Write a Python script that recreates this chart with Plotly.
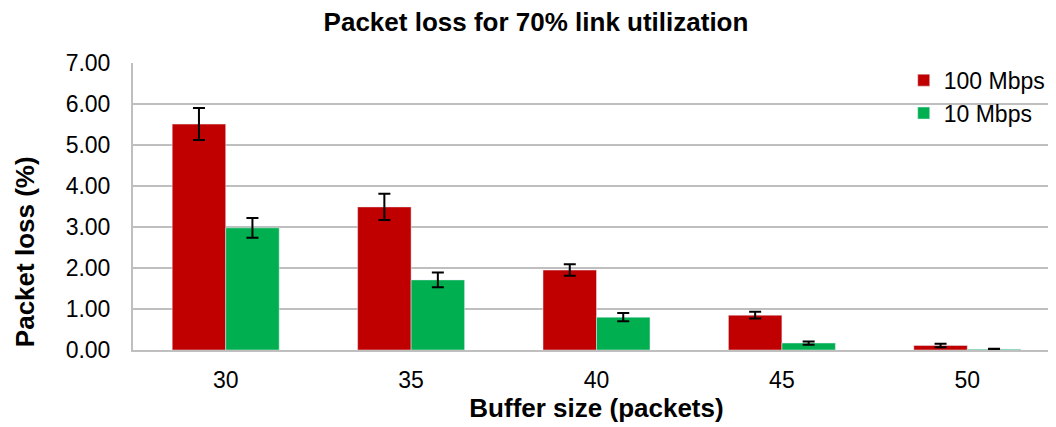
import plotly.graph_objects as go

buffer_sizes = ["30", "35", "40", "45", "50"]
loss_100 = [5.51, 3.49, 1.95, 0.85, 0.11]
err_100 = [0.39, 0.32, 0.14, 0.08, 0.04]
loss_10 = [2.98, 1.71, 0.80, 0.17, 0.02]
err_10 = [0.24, 0.18, 0.10, 0.04, 0.01]

fig = go.Figure()
fig.add_trace(go.Bar(
    x=buffer_sizes, y=loss_100, name="100 Mbps", marker_color="#c00000",
    error_y=dict(type="data", array=err_100, color="black", thickness=2, width=6),
))
fig.add_trace(go.Bar(
    x=buffer_sizes, y=loss_10, name="10 Mbps", marker_color="#00b050",
    error_y=dict(type="data", array=err_10, color="black", thickness=2, width=6),
))

# page body has an 8px margin, so offsets below are shifted by 8
fig.update_layout(
    width=1056, height=427,
    paper_bgcolor="white", plot_bgcolor="white",
    font=dict(family="Liberation Sans, Arial", size=23, color="black"),
    title=dict(text="<b>Packet loss for 70% link utilization</b>", x=0.5, xanchor="center",
               y=1 - 14 / 427, yanchor="middle", font=dict(size=26)),
    margin=dict(l=125, r=4, t=55, b=85),
    barmode="group", bargap=0.423, bargroupgap=0,
    legend=dict(x=0.99, y=1.015, xanchor="right", yanchor="top",
                font=dict(size=23), bgcolor="rgba(0,0,0,0)", itemwidth=30),
    showlegend=True,
)
# y title sits below the plot's middle in the original, so place it by hand
fig.add_annotation(
    text="<b>Packet loss (%)</b>", textangle=-90, font=dict(size=26),
    xref="paper", yref="paper", x=-0.1165, y=0.341,
    xanchor="center", yanchor="middle", showarrow=False,
)
fig.update_xaxes(
    title=dict(text="<b>Buffer size (packets)</b>", font=dict(size=26), standoff=2),
    showline=True, linecolor="#bfbfbf", linewidth=2, ticks="", tickfont=dict(size=23),
    ticklabelstandoff=8,
)
fig.update_yaxes(
    range=[0, 7], dtick=1, tickformat=".2f", showgrid=True, gridcolor="#bfbfbf",
    gridwidth=1.5, zeroline=False, showline=True, linecolor="#bfbfbf", linewidth=2,
    tickfont=dict(size=23), ticklabelstandoff=16,
)

fig.write_html("out.html")
